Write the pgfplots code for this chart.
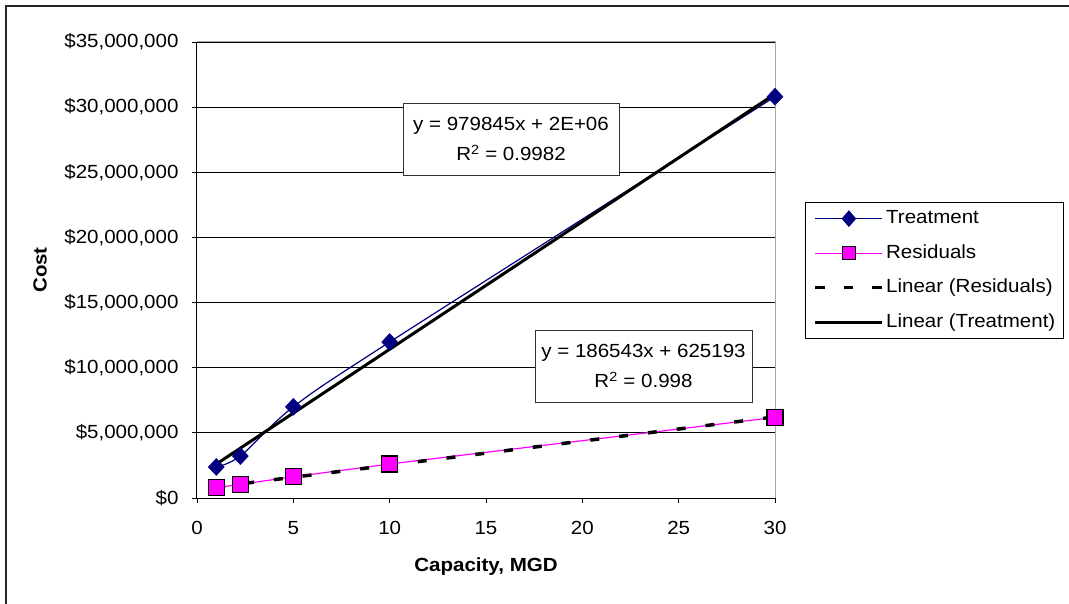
\documentclass[border=0pt]{standalone}
\usepackage{fontspec}
\setmainfont{Liberation Sans}[FakeStretch=1.08]
\usepackage{pgfplots}
\usepackage{pgfplotstable}
\pgfplotsset{compat=1.18}
\definecolor{navy}{RGB}{0,0,128}
\definecolor{mag}{RGB}{255,0,255}

\pgfplotstableread{
x y
1 2380000
2.25 3220000
5 7000000
10 11970000
30 30800000
}\treat
\pgfplotstableread{
x y
1 790000
2.25 1050000
5 1630000
10 2610000
30 6190000
}\resid

\begin{document}
\fontsize{19}{22}\selectfont
\begin{tikzpicture}[x=1pt,y=1pt]
\begin{axis}[
  at={(197pt,105pt)}, anchor=south west,
  width=578pt, height=456pt, scale only axis,
  xmin=0, xmax=30, ymin=0, ymax=35000000,
  clip=false,
  xtick={0,5,10,15,20,25,30},
  xticklabels={0,5,10,15,20,25,30},
  ytick={0,5000000,10000000,15000000,20000000,25000000,30000000,35000000},
  yticklabels={{\$0},{\$5,000,000},{\$10,000,000},{\$15,000,000},{\$20,000,000},{\$25,000,000},{\$30,000,000},{\$35,000,000}},
  scaled y ticks=false,
  axis x line*=bottom, axis y line*=left,
  axis line style={line width=1pt, black},
  ymajorgrids, grid style={black, line width=0.8pt},
  tick align=outside, major tick length=5pt,
  tick style={black, line width=0.8pt},
  xticklabel style={font=\fontsize{19}{22}\selectfont, yshift=-12pt},
  yticklabel style={font=\fontsize{19}{22}\selectfont, xshift=-7pt},
  xlabel={\textbf{Capacity, MGD}},
  ylabel={\textbf{Cost}},
  xlabel style={at={(axis description cs:0.5,-0.151)}, anchor=center, font=\fontsize{19}{22}\selectfont},
  ylabel style={at={(axis description cs:-0.2716,0.5)}, anchor=center, font=\fontsize{19}{22}\selectfont},
  legend style={at={(1.052,0.649)}, anchor=north west, draw=black, line width=1.2pt,
    font=\fontsize{19}{22}\selectfont,
    nodes={inner sep=0pt, text height=14pt, text depth=4pt},
    inner xsep=8pt, inner ysep=7pt, row sep=16.5pt, column sep=2pt},
  legend cell align=left,
]
\draw[gray!70, line width=1pt] (rel axis cs:0,1) -- (rel axis cs:1,1) -- (rel axis cs:1,0);

\addplot[navy, line width=1.2pt, smooth, mark=diamond*, mark size=8.5pt,
  mark options={solid, fill=navy, draw=navy, line width=0.5pt, xscale=1.25},
  legend image code/.code={
    \draw[navy, line width=1.2pt] (0pt,0pt) -- (67pt,0pt);
    \fill[navy] (33.5pt,7.5pt) -- (40pt,0pt) -- (33.5pt,-7.5pt) -- (27pt,0pt) -- cycle;
  }] table[x=x,y=y] {\treat};
\addlegendentry{Treatment}

\addplot[mag, line width=1.2pt, mark=square*, mark size=8pt,
  mark options={solid, fill=mag, draw=black, line width=1.3pt},
  legend image code/.code={
    \draw[mag, line width=1.2pt] (0pt,0pt) -- (67pt,0pt);
    \draw[fill=mag, draw=black, line width=1.2pt] (27pt,-6.5pt) rectangle (40pt,6.5pt);
  }] table[x=x,y=y] {\resid};
\addlegendentry{Residuals}

\addplot[black, line width=3.5pt, dash pattern=on 9pt off 20pt, no marks,
  legend image code/.code={
    \draw[black, line width=3.5pt, dash pattern=on 9.5pt off 19pt] (0pt,0pt) -- (67pt,0pt);
  }] table[x=x, y={create col/linear regression={y=y}}] {\resid};
\addlegendentry{Linear (Residuals)}

\addplot[black, line width=3pt, no marks,
  legend image code/.code={
    \draw[black, line width=3pt] (0pt,0pt) -- (67pt,0pt);
  }] table[x=x, y={create col/linear regression={y=y}}] {\treat};
\addlegendentry{Linear (Treatment)}
\end{axis}

\node[draw=black!80, line width=0.8pt, fill=white, minimum width=216pt, minimum height=72pt,
  align=center, inner sep=0pt, font=\fontsize{19}{30}\selectfont] at (511,464)
  {y = 979845x + 2E+06\\R\textsuperscript{2} = 0.9982};
\node[draw=black!80, line width=0.8pt, fill=white, minimum width=217pt, minimum height=72pt,
  align=center, inner sep=0pt, font=\fontsize{19}{30}\selectfont] at (643.5,237)
  {y = 186543x + 625193\\R\textsuperscript{2} = 0.998};

\pgfresetboundingbox
\useasboundingbox (0,0) rectangle (1069,603);
\draw[black!85, line width=1.6pt] (6,-20) -- (6,597) -- (1090,597);
\end{tikzpicture}
\end{document}
